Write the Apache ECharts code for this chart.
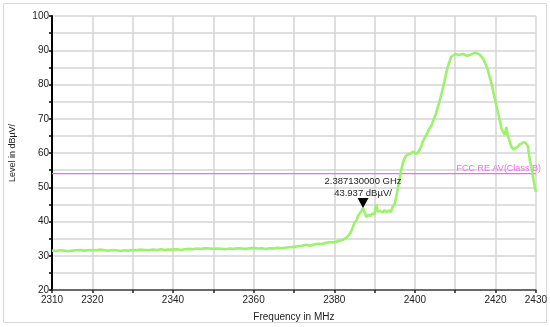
<!DOCTYPE html>
<html>
<head>
<meta charset="utf-8">
<script src="https://cdn.jsdelivr.net/npm/echarts@6/dist/echarts.min.js"></script>
<style>html,body{margin:0;padding:0;background:#fff;}#c{width:550px;height:327px;}</style>
</head>
<body>
<div id="c"></div>
<script>
const freqMHz = [2310,2311,2312,2313,2314,2315,2316,2317,2318,2319,2320,2321,2322,2323,2324,2325,2326,2327,2328,2329,
2330,2331,2332,2333,2334,2335,2336,2337,2338,2339,2340,2341,2342,2343,2344,2345,2346,2347,2348,2349,
2350,2351,2352,2353,2354,2355,2356,2357,2358,2359,2360,2361,2362,2363,2364,2365,2366,2367,2368,2369,
2370,2371,2372,2373,2374,2375,2376,2377,2378,2379,2380,2381,2382,2383,2384,2384.5,2385,2385.5,2386,2386.5,2387.13,2387.6,2388,
2388.5,2389,2389.5,2390,2390.4,2390.8,2391,2391.5,2392,2392.5,2393,2393.5,2394,2394.5,2395,2395.5,2396,2396.5,2397,2397.5,2398,2399,2399.5,2400,2400.5,2401,2401.5,2402,2403,2403.5,2404,2405,2406,2407,
2408,2409,2410,2411,2412,2413,2414,2415,2416,2417,2418,2419,2420,2421,2421.5,2422,2422.3,2422.7,2423,2423.5,2424,2424.5,2425,2425.5,2426,2426.5,
2427,2427.5,2428,2428.5,2429,2429.5,2430];
const levelDb = [31.5,31.4,31.6,31.5,31.3,31.5,31.6,31.7,31.5,31.6,31.7,31.6,31.8,31.6,31.5,31.7,31.6,31.4,31.6,31.5,
31.7,31.6,31.8,31.7,31.6,31.8,31.7,31.9,31.7,31.8,31.8,31.9,31.7,31.9,32.0,31.9,32.1,32.0,32.2,32.1,
32.0,32.1,32.0,31.9,32.1,32.0,32.2,32.1,32.0,32.2,32.3,32.1,32.2,32.0,32.2,32.1,32.3,32.2,32.4,32.5,
32.6,32.8,32.9,33.2,32.9,33.3,33.5,33.4,33.8,34.0,33.9,34.3,34.6,35.2,36.6,38.0,39.6,40.3,41.9,42.6,43.937,42.4,41.3,
42.0,41.6,42.4,42.0,45.0,42.9,42.4,43.1,42.6,43.3,42.7,43.2,42.8,44.3,45.2,48.0,51.0,54.5,57.0,58.6,59.4,59.9,60.4,60.0,59.8,60.6,61.8,63.5,65.6,67.0,67.8,70.8,74.6,79.2,84.6,
88.1,88.9,88.6,88.9,88.3,88.8,89.3,88.8,87.4,84.6,80.2,74.8,69.8,67.0,65.9,65.3,67.6,65.2,63.4,61.6,61.0,61.5,61.8,62.5,62.8,63.2,
62.9,62.0,58.0,55.2,51.5,48.6,45.0];
const markerFreq = [2387.13];
const markerLevel = [43.937];
const limitFreq = [2310, 2430];
const limitLevel = [54, 54];
const limitName = "FCC RE AV(Class B)";
const xLabelTicks = [2310,2320,2340,2360,2380,2400,2420,2430];

const chart = echarts.init(document.getElementById('c'), null, {renderer:'canvas'});
const data = freqMHz.map((f,i)=>[f, levelDb[i]]);
const limitData = limitFreq.map((f,i)=>[f, limitLevel[i]]);
const FONT = 'Liberation Sans, Arial, sans-serif';
const PINK = '#e870e8';
chart.setOption({
  animation:false,
  backgroundColor:'#fff',
  graphic:[{type:'rect', shape:{x:3.5,y:3.5,width:543,height:319}, style:{fill:'none', stroke:'#d8d8d8', lineWidth:1}, z:-1}],
  grid:{left:49, right:12, top:16, bottom:36.5},
  xAxis:{
    type:'value', min:2310, max:2430, interval:10,
    name:'Frequency in MHz', nameLocation:'middle', nameGap:22,
    nameTextStyle:{color:'#222', fontSize:10, fontFamily:FONT},
    axisLine:{show:true, onZero:false, lineStyle:{color:'#444', width:1.5}},
    axisTick:{show:true, length:3, lineStyle:{color:'#222', width:1.5}},
    axisLabel:{color:'#222', fontSize:10, fontFamily:FONT, margin:5,
      formatter:v=> xLabelTicks.indexOf(v)>=0 ? String(v) : ''},
    splitLine:{show:true, lineStyle:{color:'#d4d4d4', width:1.5}}
  },
  yAxis:{
    type:'value', min:20, max:100, interval:5,
    name:'Level in dBµV/', nameLocation:'middle', nameGap:35, nameRotate:90,
    nameTextStyle:{color:'#222', fontSize:9, fontFamily:FONT},
    axisLine:{show:true, onZero:false, lineStyle:{color:'#000', width:2}},
    axisTick:{show:true, length:3, lineStyle:{color:'#000', width:1.5}},
    axisLabel:{color:'#222', fontSize:10, fontFamily:FONT, margin:3,
      formatter:v=> v%10===0 ? String(v) : ''},
    splitLine:{show:true, lineStyle:{color:'#d4d4d4', width:1.5}}
  },
  series:[{
    type:'line', data:limitData, showSymbol:false, silent:true,
    lineStyle:{color:PINK, width:1.2},
    itemStyle:{color:PINK},
    z:2,
    endLabel:{show:true, formatter:limitName, color:PINK, fontSize:9, fontFamily:FONT,
      align:'right', verticalAlign:'bottom', distance:0, offset:[5,-1]}
  },{
    type:'line', data:data, showSymbol:false, smooth:false,
    lineStyle:{color:'#9cf26a', width:2.6},
    itemStyle:{color:'#9cf26a'},
    z:3,
    markPoint:{
      symbol:'triangle', symbolRotate:180, symbolSize:[11,10], symbolOffset:[0,-5],
      itemStyle:{color:'#000'},
      label:{show:true, position:'top', distance:-1, color:'#222', fontSize:9.5, fontFamily:FONT, lineHeight:12,
        formatter:()=> (markerFreq[0]/1000).toFixed(9)+' GHz\n'+markerLevel[0].toFixed(3)+' dBµV/'},
      data:[{coord:[markerFreq[0], markerLevel[0]]}]
    }
  }]
});
</script>
</body>
</html>
